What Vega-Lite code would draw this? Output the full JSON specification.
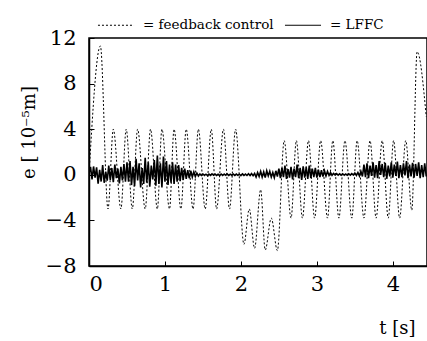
{
  "$schema": "https://vega.github.io/schema/vega-lite/v6.json",
  "width": 338,
  "height": 228,
  "autosize": "none",
  "padding": {"left": 89, "top": 38, "right": 0, "bottom": 75},
  "background": "white",
  "config": {
    "font": "DejaVu Serif",
    "view": {"stroke": "black", "strokeWidth": 1.5},
    "axis": {
      "grid": false,
      "domainColor": "black",
      "domainWidth": 1.5,
      "tickColor": "black",
      "tickSize": -5,
      "tickWidth": 1,
      "labelFont": "DejaVu Serif",
      "labelFontSize": 21,
      "labelColor": "black",
      "titleFont": "DejaVu Serif",
      "titleFontSize": 18,
      "titleFontWeight": "normal",
      "titleColor": "black"
    },
    "legend": {
      "labelFont": "DejaVu Serif"
    }
  },
  "datasets": {
    "fb": [
      {"t":0,"e":0},{"t":0.15,"e":11.3},{"t":0.25,"e":-3.0},{"t":0.32,"e":4.0},{"t":0.42,"e":-3.0},{"t":0.49,"e":4.0},{"t":0.57,"e":-3.0},{"t":0.64,"e":4.0},{"t":0.74,"e":-3.0},{"t":0.81,"e":4.0},{"t":0.90,"e":-3.0},{"t":0.96,"e":4.0},{"t":1.06,"e":-3.0},{"t":1.12,"e":4.0},{"t":1.21,"e":-3.0},{"t":1.28,"e":4.0},{"t":1.37,"e":-3.0},{"t":1.44,"e":4.0},{"t":1.53,"e":-3.0},{"t":1.61,"e":4.0},{"t":1.68,"e":-3.0},{"t":1.77,"e":4.0},{"t":1.85,"e":-3.0},{"t":1.93,"e":4.0},{"t":2.04,"e":-6.1},{"t":2.11,"e":-3.0},{"t":2.18,"e":-6.45},{"t":2.26,"e":-1.3},{"t":2.32,"e":-6.6},{"t":2.40,"e":-3.8},{"t":2.48,"e":-6.65},{"t":2.57,"e":3.0},{"t":2.66,"e":-3.8},{"t":2.73,"e":3.0},{"t":2.81,"e":-3.8},{"t":2.89,"e":3.0},{"t":2.97,"e":-3.8},{"t":3.05,"e":3.0},{"t":3.14,"e":-3.8},{"t":3.21,"e":3.0},{"t":3.29,"e":-3.8},{"t":3.37,"e":3.0},{"t":3.46,"e":-3.8},{"t":3.53,"e":3.0},{"t":3.62,"e":-3.8},{"t":3.70,"e":3.0},{"t":3.78,"e":-3.8},{"t":3.86,"e":3.0},{"t":3.94,"e":-3.8},{"t":4.01,"e":3.0},{"t":4.09,"e":-3.8},{"t":4.17,"e":3.0},{"t":4.25,"e":-3.1},{"t":4.32,"e":10.8},{"t":4.44,"e":5.1}
    ],
    "lffc": [
      {"t":0.00,"e":0.1},{"t":0.02,"e":0.7},{"t":0.04,"e":-0.4},{"t":0.06,"e":0.73},{"t":0.08,"e":-0.25},{"t":0.10,"e":0.65},{"t":0.12,"e":-0.78},{"t":0.14,"e":0.43},{"t":0.16,"e":-0.59},{"t":0.18,"e":0.85},{"t":0.20,"e":-0.7},{"t":0.22,"e":0.28},{"t":0.24,"e":-0.51},{"t":0.26,"e":0.8},{"t":0.28,"e":-0.45},{"t":0.30,"e":0.6},{"t":0.32,"e":-0.65},{"t":0.34,"e":0.9},{"t":0.36,"e":-0.3},{"t":0.38,"e":0.55},{"t":0.40,"e":-0.75},{"t":0.42,"e":0.7},{"t":0.44,"e":-0.5},{"t":0.46,"e":0.95},{"t":0.48,"e":-0.6},
      {"t":0.50,"e":1.1},{"t":0.52,"e":-0.6},{"t":0.54,"e":1.2},{"t":0.56,"e":-0.9},{"t":0.58,"e":0.7},{"t":0.60,"e":-1.0},{"t":0.62,"e":1.4},{"t":0.64,"e":-0.5},{"t":0.66,"e":1.0},{"t":0.68,"e":-1.1},{"t":0.70,"e":0.6},{"t":0.72,"e":-0.8},{"t":0.74,"e":1.5},{"t":0.76,"e":-0.7},{"t":0.78,"e":1.1},{"t":0.80,"e":-1.05},{"t":0.82,"e":0.8},{"t":0.84,"e":-0.4},{"t":0.86,"e":1.3},{"t":0.88,"e":-0.95},{"t":0.90,"e":1.7},{"t":0.92,"e":-0.8},{"t":0.94,"e":1.0},{"t":0.96,"e":-1.1},{"t":0.98,"e":1.6},{"t":1.00,"e":-0.6},{"t":1.02,"e":1.2},{"t":1.04,"e":-0.9},{"t":1.06,"e":0.9},{"t":1.08,"e":-0.7},{"t":1.10,"e":1.1},
      {"t":1.12,"e":-0.8},{"t":1.14,"e":0.9},{"t":1.16,"e":-0.6},{"t":1.18,"e":0.85},{"t":1.20,"e":-0.55},{"t":1.22,"e":0.6},{"t":1.24,"e":-0.45},{"t":1.26,"e":0.55},{"t":1.28,"e":-0.35},{"t":1.30,"e":0.4},{"t":1.32,"e":-0.3},{"t":1.34,"e":0.35},{"t":1.36,"e":-0.2},{"t":1.38,"e":0.25},{"t":1.40,"e":-0.15},{"t":1.42,"e":0.15},{"t":1.44,"e":-0.1},
      {"t":1.46,"e":0.08},{"t":1.48,"e":-0.06},{"t":1.50,"e":0.07},{"t":1.52,"e":-0.05},{"t":1.54,"e":0.05},{"t":1.56,"e":-0.07},{"t":1.58,"e":0.06},{"t":1.60,"e":-0.05},{"t":1.62,"e":0.08},{"t":1.64,"e":-0.04},{"t":1.66,"e":0.06},{"t":1.68,"e":-0.06},{"t":1.70,"e":0.05},{"t":1.72,"e":-0.07},{"t":1.74,"e":0.07},{"t":1.76,"e":-0.05},{"t":1.78,"e":0.06},{"t":1.80,"e":-0.04},{"t":1.82,"e":0.08},{"t":1.84,"e":-0.06},{"t":1.86,"e":0.05},{"t":1.88,"e":-0.05},{"t":1.90,"e":0.07},{"t":1.92,"e":-0.06},{"t":1.94,"e":0.06},{"t":1.96,"e":-0.04},{"t":1.98,"e":0.05},{"t":2.00,"e":-0.07},{"t":2.02,"e":0.08},{"t":2.04,"e":-0.05},{"t":2.06,"e":0.06},{"t":2.08,"e":-0.06},{"t":2.10,"e":0.09},{"t":2.12,"e":-0.07},{"t":2.14,"e":0.1},{"t":2.16,"e":-0.08},{"t":2.18,"e":0.12},
      {"t":2.20,"e":-0.2},{"t":2.22,"e":0.2},{"t":2.24,"e":-0.15},{"t":2.26,"e":0.3},{"t":2.28,"e":-0.2},{"t":2.30,"e":0.25},{"t":2.32,"e":-0.25},{"t":2.34,"e":0.35},{"t":2.36,"e":-0.1},{"t":2.38,"e":0.3},{"t":2.40,"e":-0.2},{"t":2.42,"e":0.2},{"t":2.44,"e":-0.25},{"t":2.46,"e":0.35},{"t":2.48,"e":-0.15},
      {"t":2.50,"e":0.55},{"t":2.52,"e":-0.3},{"t":2.54,"e":0.6},{"t":2.56,"e":-0.2},{"t":2.58,"e":0.8},{"t":2.60,"e":-0.35},{"t":2.62,"e":0.5},{"t":2.64,"e":-0.25},{"t":2.66,"e":0.7},{"t":2.68,"e":-0.4},{"t":2.70,"e":0.55},{"t":2.72,"e":-0.2},{"t":2.74,"e":0.9},{"t":2.76,"e":-0.3},{"t":2.78,"e":0.6},{"t":2.80,"e":-0.45},{"t":2.82,"e":0.75},{"t":2.84,"e":-0.25},{"t":2.86,"e":0.65},{"t":2.88,"e":-0.35},{"t":2.90,"e":0.8},{"t":2.92,"e":-0.3},{"t":2.94,"e":0.55},{"t":2.96,"e":-0.2},{"t":2.98,"e":0.6},
      {"t":3.00,"e":-0.25},{"t":3.02,"e":0.45},{"t":3.04,"e":-0.2},{"t":3.06,"e":0.4},{"t":3.08,"e":-0.15},{"t":3.10,"e":0.35},{"t":3.12,"e":-0.1},{"t":3.14,"e":0.3},{"t":3.16,"e":-0.05},{"t":3.18,"e":0.2},
      {"t":3.20,"e":-0.05},{"t":3.22,"e":0.12},{"t":3.24,"e":-0.02},{"t":3.26,"e":0.1},{"t":3.28,"e":-0.03},{"t":3.30,"e":0.08},{"t":3.32,"e":-0.04},{"t":3.34,"e":0.08},{"t":3.36,"e":-0.03},{"t":3.38,"e":0.07},{"t":3.40,"e":-0.04},{"t":3.42,"e":0.09},{"t":3.44,"e":-0.03},{"t":3.46,"e":0.1},{"t":3.48,"e":-0.02},{"t":3.50,"e":0.15},{"t":3.52,"e":-0.05},{"t":3.54,"e":0.2},{"t":3.56,"e":-0.1},{"t":3.58,"e":0.3},
      {"t":3.60,"e":-0.15},{"t":3.62,"e":0.9},{"t":3.64,"e":-0.2},{"t":3.66,"e":1.0},{"t":3.68,"e":-0.3},{"t":3.70,"e":0.8},{"t":3.72,"e":-0.1},{"t":3.74,"e":1.1},{"t":3.76,"e":-0.25},{"t":3.78,"e":0.85},{"t":3.80,"e":-0.3},{"t":3.82,"e":1.2},{"t":3.84,"e":0.0},{"t":3.86,"e":0.95},{"t":3.88,"e":-0.2},{"t":3.90,"e":1.05},{"t":3.92,"e":-0.35},{"t":3.94,"e":0.8},{"t":3.96,"e":-0.15},{"t":3.98,"e":1.1},{"t":4.00,"e":-0.25},{"t":4.02,"e":0.9},{"t":4.04,"e":-0.1},{"t":4.06,"e":1.15},{"t":4.08,"e":-0.3},{"t":4.10,"e":0.85},{"t":4.12,"e":-0.2},{"t":4.14,"e":1.0},{"t":4.16,"e":-0.05},{"t":4.18,"e":1.2},{"t":4.20,"e":-0.3},{"t":4.22,"e":0.9},{"t":4.24,"e":-0.15},{"t":4.26,"e":1.05},{"t":4.28,"e":-0.25},{"t":4.30,"e":0.95},{"t":4.32,"e":-0.1},{"t":4.34,"e":1.1},{"t":4.36,"e":-0.3},{"t":4.38,"e":0.85},{"t":4.40,"e":-0.2},{"t":4.42,"e":1.0},{"t":4.44,"e":-0.15}
    ]
  },
  "encoding": {
    "x": {
      "field": "t",
      "type": "quantitative",
      "scale": {"domain": [0, 4.45], "nice": false, "zero": false},
      "axis": {
        "values": [0, 1, 2, 3, 4],
        "labelPadding": 12,
        "title": "t [s]",
        "titleX": 326,
        "titleY": 67,
        "titleAlign": "right",
        "titleBaseline": "alphabetic",
        "titleAnchor": null
      }
    },
    "y": {
      "field": "e",
      "type": "quantitative",
      "scale": {"domain": [-8, 12], "nice": false, "zero": false},
      "axis": {
        "values": [-8, -4, 0, 4, 8, 12],
        "labelPadding": 18,
        "labelBaseline": "middle",
        "title": "e [ 10⁻⁵m]",
        "titleX": -60,
        "titleY": 94,
        "titleAlign": "center",
        "titleBaseline": "middle",
        "titleAnchor": null
      }
    }
  },
  "layer": [
    {
      "data": {"name": "fb"},
      "mark": {"type": "line", "color": "black", "strokeWidth": 1, "interpolate": "monotone", "clip": true},
      "encoding": {
        "strokeDash": {
          "datum": "= feedback control",
          "scale": {"domain": ["= feedback control", "= LFFC"], "range": [[2, 2], [1, 0]]},
          "legend": {
            "orient": "none",
            "legendX": 8,
            "legendY": -32,
            "direction": "horizontal",
            "title": null,
            "symbolType": "stroke",
            "symbolSize": 1300,
            "symbolStrokeWidth": 1,
            "symbolStrokeColor": "black",
            "labelFont": "DejaVu Serif",
            "labelFontSize": 13.5,
            "labelColor": "black",
            "labelOffset": 8,
            "columnPadding": 8
          }
        }
      }
    },
    {
      "data": {"name": "lffc"},
      "mark": {"type": "line", "color": "black", "strokeWidth": 1.6, "clip": true},
      "encoding": {
        "strokeDash": {"datum": "= LFFC"}
      }
    }
  ]
}
